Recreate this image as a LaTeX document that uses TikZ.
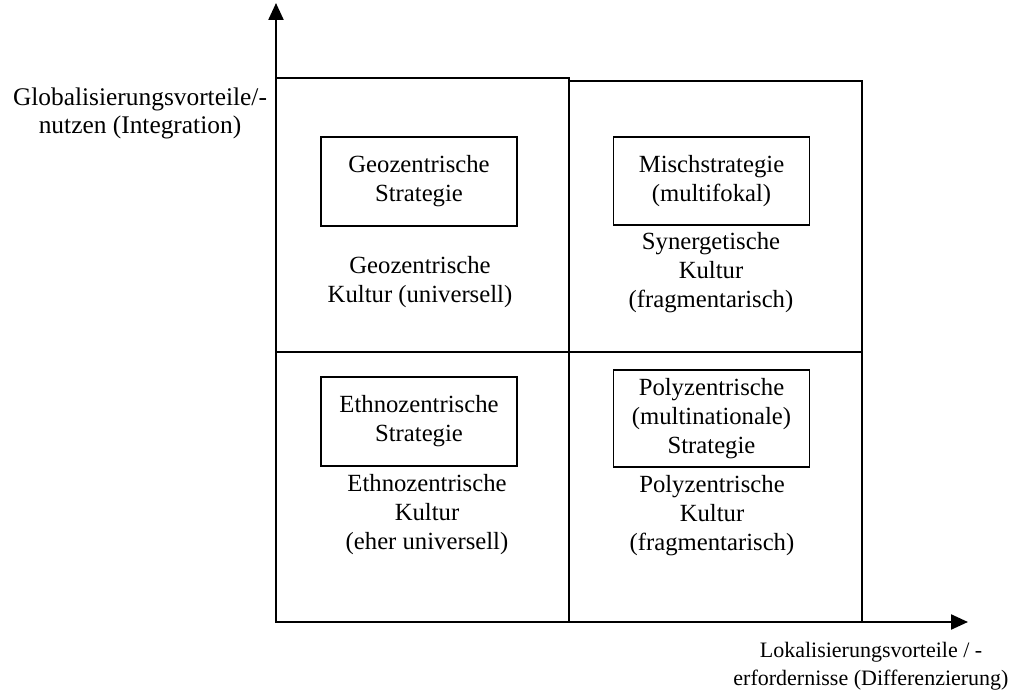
\documentclass[tikz,border=0pt]{standalone}
\usepackage{fontspec}
\setmainfont{Liberation Serif}
\usetikzlibrary{arrows.meta}
\begin{document}
\begin{tikzpicture}[x=1pt,y=-1pt,
  txt/.style={align=center,inner sep=0pt,font=\fontsize{24.7pt}{29pt}\selectfont},
  quad/.style={draw,line width=2.6pt},
  stratbox/.style={draw,line width=1.7pt,minimum width=196pt,inner sep=0pt},
  axis/.style={line width=2.3pt,-{Triangle[length=17pt,width=15pt]}}]
\useasboundingbox (0,0) rectangle (1013,695);

% quadrants
\draw[quad] (276,78) rectangle (569,352);
\draw[quad] (569,81) rectangle (862,352);
\draw[quad] (276,352) rectangle (569,622);
\draw[quad] (569,352) rectangle (862,622);

% axes
\coordinate (origin) at (276,622);
\coordinate (ytip) at (276,3);
\coordinate (xtip) at (968,622);
\draw[axis] (origin) -- (ytip);
\draw[axis] (origin) -- (xtip);

% strategy boxes
\node[stratbox,minimum height=89pt] (geo) at (419,181.5) {};
\node[txt] at (geo.center) {Geozentrische\\Strategie};
\node[stratbox,minimum height=88pt] (misch) at (711.5,181) {};
\node[txt] at (misch.center) {Mischstrategie\\(multifokal)};
\node[stratbox,minimum height=89pt] (ethno) at (419,421.5) {};
\node[txt] at (ethno.center) {Ethnozentrische\\Strategie};
\node[stratbox,minimum height=97pt] (poly) at (711.5,418.5) {};
\node[txt] at (poly.center) {Polyzentrische\\(multinationale)\\Strategie};

% culture labels
\node[txt] (geokult) at (420,282) {Geozentrische\\Kultur (universell)};
\node[txt] (synkult) at (711,273) {Synergetische\\Kultur\\(fragmentarisch)};
\node[txt] (ethnokult) at (427,515) {Ethnozentrische\\Kultur\\(eher universell)};
\node[txt] (polykult) at (712,516) {Polyzentrische\\Kultur\\(fragmentarisch)};

% axis labels
\node[txt,font=\fontsize{25.4pt}{28pt}\selectfont] (ylab) at (140,113) {Globalisierungsvorteile/-\\nutzen (Integration)};
\node[txt,font=\fontsize{22pt}{28pt}\selectfont] (xlab) at (871,666) {Lokalisierungsvorteile / -\\erfordernisse (Differenzierung)};
\end{tikzpicture}
\end{document}
